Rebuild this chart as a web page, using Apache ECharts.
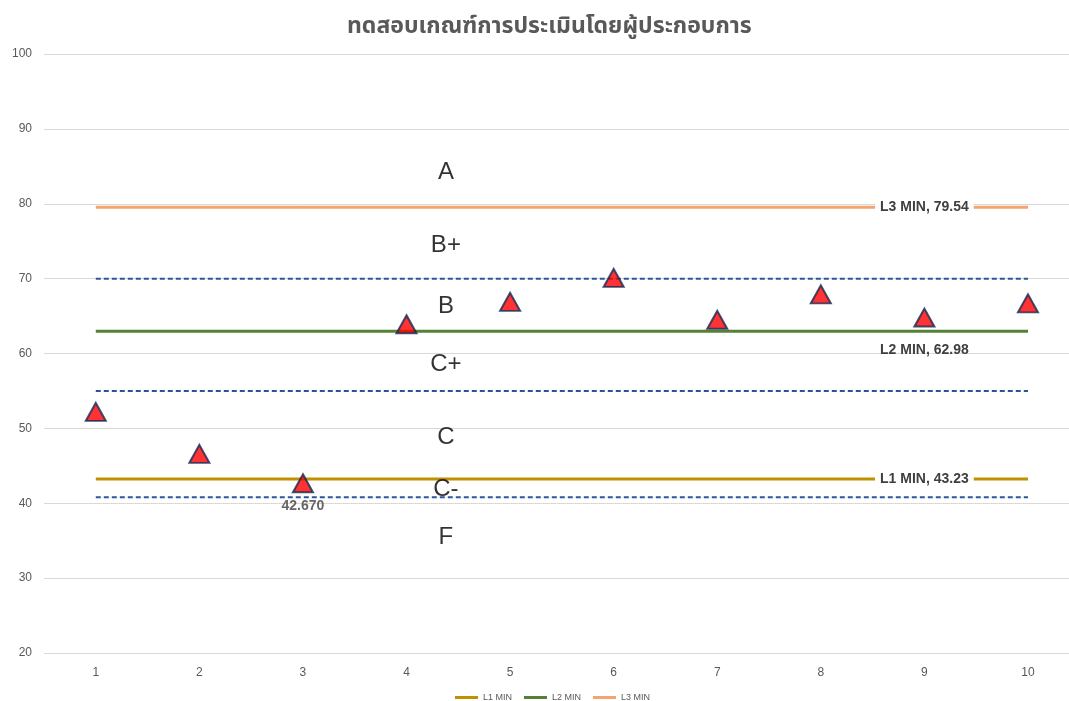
<!DOCTYPE html>
<html>
<head>
<meta charset="utf-8">
<script src="https://cdn.jsdelivr.net/npm/echarts@6/dist/echarts.min.js"></script>
<style>
  html, body { margin: 0; padding: 0; background: #fff; }
  #chart { width: 1069px; height: 701px; }
</style>
</head>
<body>
<div id="chart"></div>
<script>
// Test rounds and their scores
const rounds = [1, 2, 3, 4, 5, 6, 7, 8, 9, 10];
const scores = [52.2, 46.6, 42.67, 63.9, 66.9, 70.1, 64.5, 67.9, 64.8, 66.7];

// Minimum thresholds per level
const l1Min = 43.23;
const l2Min = 62.98;
const l3Min = 79.54;

// Grade boundaries drawn as dashed lines
const gradeBounds = [70, 55, 40.8];

// Grade bands: names and the level each name sits at
const gradeNames = ['A', 'B+', 'B', 'C+', 'C', 'C-', 'F'];
const gradeY = [84.2, 74.5, 66.3, 58.6, 48.8, 41.9, 35.4];
const gradeX = 4.38;

// Axis ranges
const yMin = 20, yMax = 100, yStep = 10;
const xMin = 0.5, xMax = 10.396;

const font = '"Liberation Sans", "Open Sans", "Noto Sans", sans-serif';
const labelRound = 9; // thresholds are labelled at this round

function flat(v) { return rounds.map(r => [r, v]); }

function thresholdSeries(name, v, color, pos) {
  return {
    name: name,
    type: 'line',
    data: flat(v),
    symbol: 'none',
    lineStyle: { color: color, width: 3 },
    itemStyle: { color: color },
    z: 3,
    markPoint: {
      symbol: 'rect', symbolSize: 0,
      data: [{ coord: [labelRound, v], value: v }],
      label: {
        show: true,
        position: pos,
        distance: 10,
        formatter: name + ', ' + v.toFixed(2),
        color: '#404040',
        fontFamily: font,
        fontWeight: 'bold',
        fontSize: 14,
        backgroundColor: pos === 'inside' ? '#ffffff' : 'transparent',
        padding: [2, 5]
      }
    }
  };
}

const series = [];

gradeBounds.forEach(b => {
  series.push({
    name: 'bound' + b,
    type: 'line',
    data: flat(b),
    symbol: 'none',
    lineStyle: { color: '#2F5597', width: 2, type: [5, 3] },
    z: 2,
    silent: true
  });
});

series.push(thresholdSeries('L1 MIN', l1Min, '#BF9000', 'inside'));
series.push(thresholdSeries('L2 MIN', l2Min, '#548235', 'bottom'));
series.push(thresholdSeries('L3 MIN', l3Min, '#F4A46E', 'inside'));

series.push({
  name: 'score',
  type: 'scatter',
  data: rounds.map((r, i) => [r, scores[i]]),
  symbol: 'triangle',
  symbolSize: [20, 18],
  itemStyle: { color: '#FF0000', borderColor: '#172B54', borderWidth: 2 },
  z: 5,
  label: {
    show: true,
    position: 'bottom',
    distance: 6,
    color: '#404040',
    fontFamily: font,
    fontWeight: 'bold',
    fontSize: 14,
    formatter: p => (p.dataIndex === 2 ? p.value[1].toFixed(3) : '')
  }
});

series.push({
  name: 'grades',
  type: 'scatter',
  data: gradeNames.map((g, i) => ({ value: [gradeX, gradeY[i]], name: g })),
  symbolSize: 0,
  silent: true,
  z: 6,
  label: {
    show: true,
    position: 'inside',
    formatter: p => p.name,
    color: '#000000',
    fontFamily: font,
    fontSize: 24
  }
});

const chart = echarts.init(document.getElementById('chart'), null, { renderer: 'canvas' });
chart.setOption({
  backgroundColor: '#ffffff',
  animation: false,
  title: {
    text: 'ทดสอบเกณฑ์การประเมินโดยผู้ประกอบการ',
    left: 342,
    top: 12,
    textStyle: {
      color: '#595959',
      fontSize: 23,
      fontWeight: 'bold',
      fontFamily: '"Noto Sans Thai", "Noto Sans", "DejaVu Sans", sans-serif'
    }
  },
  legend: {
    bottom: -6,
    left: 450,
    data: ['L1 MIN', 'L2 MIN', 'L3 MIN'],
    icon: 'rect',
    itemWidth: 23,
    itemHeight: 3,
    itemGap: 12,
    textStyle: { color: '#595959', fontSize: 9, fontFamily: font }
  },
  grid: { left: 44, top: 54, right: 0, height: 599, containLabel: false },
  xAxis: {
    type: 'value',
    min: xMin,
    max: xMax,
    axisLine: { show: false },
    axisTick: { show: false },
    splitLine: { show: false },
    axisLabel: {
      customValues: rounds,
      color: '#595959',
      fontSize: 12,
      fontFamily: font,
      margin: 14
    }
  },
  yAxis: {
    type: 'value',
    min: yMin,
    max: yMax,
    interval: yStep,
    axisLine: { show: false },
    axisTick: { show: false },
    splitLine: { lineStyle: { color: '#D9D9D9', width: 1 } },
    axisLabel: { color: '#595959', fontSize: 12, fontFamily: font, margin: 12 }
  },
  series: series
});
</script>
</body>
</html>
